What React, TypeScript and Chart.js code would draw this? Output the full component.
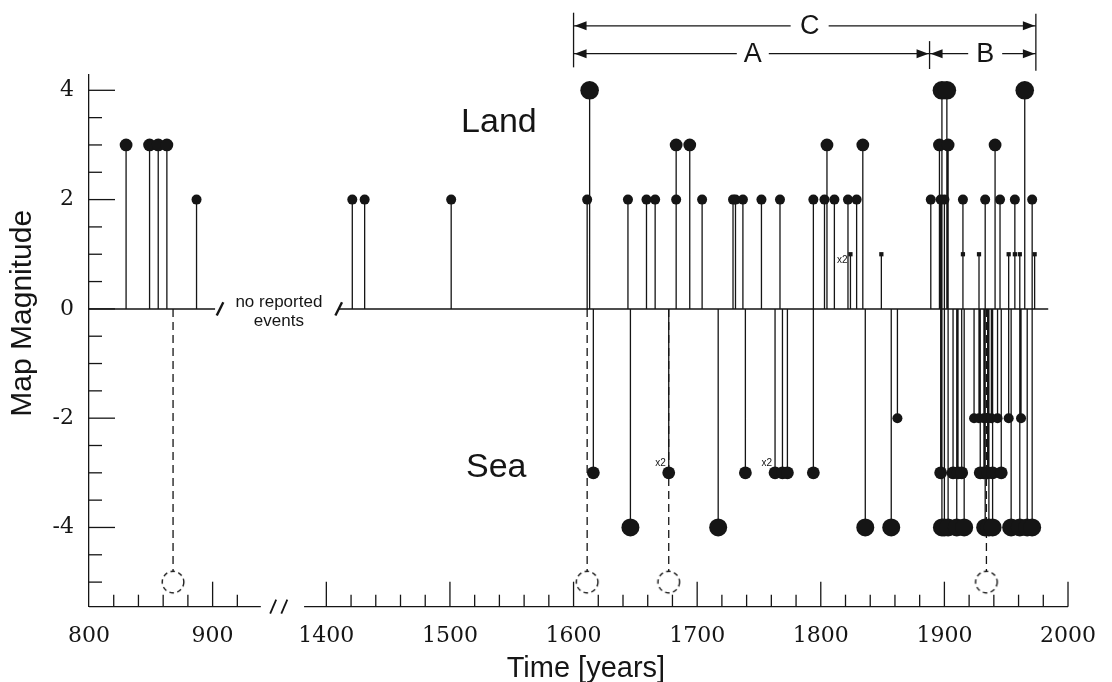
import { useEffect, useRef } from 'react';
import { Chart, registerables } from 'chart.js';

Chart.register(...registerables);

// The time axis is broken between 900 and 1400: later years are shifted left.
const AXIS_SHIFT = 408;
const toAxis = (year: number) => (year < 1000 ? year : year - AXIS_SHIFT);
const fromAxis = (v: number) => (v < 960 ? v : v + AXIS_SHIFT);

// Events felt on land (positive map magnitude)
const landYears = [
  830, 849, 856, 863, 887, 1421, 1431, 1501, 1611, 1613, 1644, 1659, 1666, 1683, 1683, 1694,
  1704, 1729, 1731, 1737, 1752, 1767, 1794, 1803, 1805, 1811, 1822, 1824, 1829, 1834, 1849,
  1889, 1896, 1897, 1898, 1900, 1902, 1903, 1915, 1915, 1928, 1933, 1941, 1945, 1952, 1957,
  1957, 1961, 1965, 1971, 1973,
];
const landMagnitudes = [
  3, 3, 3, 3, 2, 2, 2, 2, 2, 4, 2, 2, 2, 3, 2, 3,
  2, 2, 2, 2, 2, 2, 2, 2, 3, 2, 2, 1, 2, 3, 1,
  2, 3, 2, 4, 2, 4, 3, 2, 1, 1, 2, 3, 2, 1, 2,
  1, 1, 4, 2, 1,
];

// Events at sea (negative map magnitude)
const seaYears = [
  1616, 1646, 1677, 1717, 1739, 1763, 1769, 1773, 1794, 1836, 1857, 1862, 1897, 1898, 1900,
  1903, 1907, 1910, 1911, 1914, 1916, 1924, 1928, 1929, 1932, 1932, 1933, 1935, 1935, 1936,
  1938, 1939, 1939, 1943, 1946, 1952, 1954, 1961, 1962, 1967, 1971,
];
const seaMagnitudes = [
  -3, -4, -3, -4, -3, -3, -3, -3, -3, -4, -4, -2, -3, -4, -4,
  -4, -3, -4, -3, -3, -4, -2, -2, -3, -2, -3, -4, -2, -3, -4,
  -2, -3, -4, -2, -3, -2, -4, -4, -2, -4, -4,
];

// Uncertain sea events, drawn dashed
const dashedYears = [868, 1611, 1677, 1934];
const dashedLevel = -5;

// Events that happened twice in the same year
const doubleYears = [1824, 1677, 1763];
const doubleMagnitudes = [1, -3, -3];

// Periods marked above the plot
const periodNames = ['A', 'B', 'C'];
const periodStarts = [1600, 1888, 1600];
const periodEnds = [1888, 1974, 1974];

// Axis ticks
const xLabelYears = [800, 900, 1400, 1500, 1600, 1700, 1800, 1900, 2000];
const yTickLabels = [-4, -2, 0, 2, 4];

const xTickYears: number[] = [];
for (let y = 800; y <= 920; y += 20) xTickYears.push(y);
for (let y = 1400; y <= 2000; y += 20) xTickYears.push(y);
const yTickValues: number[] = [];
for (let v = -5; v <= 4; v += 0.5) yTickValues.push(v);

const INK = '#151515';
const SANS = '"Liberation Sans", Arial, Helvetica, sans-serif';
const SERIF = '"DejaVu Serif", "Liberation Serif", serif';

function markerRadius(m: number) {
  const a = Math.abs(m);
  if (a >= 4) return m > 0 ? 9.3 : 9;
  if (a >= 3) return 6.4;
  if (a >= 2) return 5;
  return 3;
}

function dashedCircle(r: number) {
  const c = document.createElement('canvas');
  const s = Math.ceil(r * 2 + 4);
  c.width = s;
  c.height = s;
  const g = c.getContext('2d')!;
  g.setLineDash([4.5, 3.5]);
  g.lineWidth = 1.4;
  g.strokeStyle = INK;
  g.beginPath();
  g.arc(s / 2, s / 2, r, 0, Math.PI * 2);
  g.stroke();
  return c;
}

function line(ctx: CanvasRenderingContext2D, x1: number, y1: number, x2: number, y2: number) {
  ctx.beginPath();
  ctx.moveTo(x1, y1);
  ctx.lineTo(x2, y2);
  ctx.stroke();
}

function arrowHead(ctx: CanvasRenderingContext2D, tipX: number, y: number, dir: number) {
  ctx.beginPath();
  ctx.moveTo(tipX, y);
  ctx.lineTo(tipX - dir * 12, y - 4.5);
  ctx.lineTo(tipX - dir * 12, y + 4.5);
  ctx.closePath();
  ctx.fill();
}

const overlay = {
  id: 'overlay',
  beforeDatasetsDraw(chart: any) {
    const ctx: CanvasRenderingContext2D = chart.ctx;
    const xs = chart.scales.x;
    const ys = chart.scales.y;
    const { left, bottom } = chart.chartArea;
    const px = (v: number) => xs.getPixelForValue(v);
    ctx.save();
    ctx.strokeStyle = INK;
    ctx.lineWidth = 1.3;
    // broken bottom axis
    line(ctx, left, bottom, px(939), bottom);
    line(ctx, px(974), bottom, xs.right, bottom);
    ctx.lineWidth = 1.8;
    for (const v of [949, 958]) {
      const x = px(v);
      line(ctx, x - 3, bottom + 7, x + 3, bottom - 7);
    }
    ctx.lineWidth = 1.3;
    // inward tick marks
    for (const t of xs.ticks) {
      const yr = fromAxis(t.value);
      if (yr === 800) continue;
      const x = px(t.value);
      line(ctx, x, bottom, x, bottom - (yr % 100 === 0 ? 25 : 12));
    }
    for (const t of ys.ticks) {
      const y = ys.getPixelForValue(t.value);
      line(ctx, left, y, left + (yTickLabels.includes(t.value) ? 26 : 13), y);
    }
    // breaks on the zero line
    const zy = ys.getPixelForValue(0);
    ctx.lineWidth = 2.4;
    for (const v of [906, 1002]) {
      const x = px(v);
      line(ctx, x - 3.3, zy + 6.7, x + 3.3, zy - 6.7);
    }
    ctx.restore();
  },
  afterDatasetsDraw(chart: any) {
    const ctx: CanvasRenderingContext2D = chart.ctx;
    const xs = chart.scales.x;
    const ys = chart.scales.y;
    const { left, bottom } = chart.chartArea;
    const pxYear = (yr: number) => xs.getPixelForValue(toAxis(yr));
    const py = (v: number) => ys.getPixelForValue(v);
    ctx.save();
    ctx.fillStyle = INK;
    ctx.strokeStyle = INK;

    // gap label on the zero line
    ctx.font = `17px ${SANS}`;
    ctx.textAlign = 'center';
    ctx.textBaseline = 'middle';
    const gx = xs.getPixelForValue(953.6);
    const zy = py(0);
    ctx.fillText('no reported', gx, zy - 6.5);
    ctx.fillText('events', gx, zy + 12);

    // Land / Sea
    ctx.font = `34px ${SANS}`;
    ctx.textAlign = 'left';
    ctx.textBaseline = 'alphabetic';
    ctx.fillText('Land', pxYear(1509), py(3.24));
    ctx.fillText('Sea', pxYear(1513), py(-3.07));

    // "x2" marks
    ctx.font = `10px ${SANS}`;
    ctx.textAlign = 'right';
    ctx.textBaseline = 'middle';
    doubleYears.forEach((yr, i) => {
      const m = doubleMagnitudes[i];
      const x = pxYear(yr);
      const y = py(m);
      if (m > 0) ctx.fillText('x2', x - 3, y + 6);
      else ctx.fillText('x2', x - 3, y - 10);
    });

    // period brackets A, B, C
    ctx.lineWidth = 1.3;
    const rowC = py(5.18);
    const rowAB = py(4.67);
    const xStart = pxYear(periodStarts[2]);
    const xEnd = pxYear(periodEnds[2]);
    const xMid = pxYear(periodEnds[0]);
    line(ctx, xStart, py(5.42), xStart, py(4.42));
    line(ctx, xEnd, py(5.40), xEnd, py(4.36));
    line(ctx, xMid, py(4.90), xMid, py(4.39));
    const labelYears = [1745, 1933, 1791];
    const gaps = [16, 17, 19];
    ctx.font = `27px ${SANS}`;
    ctx.textAlign = 'center';
    ctx.textBaseline = 'middle';
    periodNames.forEach((name, i) => {
      const y = i === 2 ? rowC : rowAB;
      const a = pxYear(periodStarts[i]);
      const b = pxYear(periodEnds[i]);
      const c = pxYear(labelYears[i]);
      line(ctx, a, y, c - gaps[i], y);
      line(ctx, c + gaps[i], y, b, y);
      arrowHead(ctx, a + 1, y, -1);
      arrowHead(ctx, b - 1, y, 1);
      ctx.fillText(name, c, y + 1);
    });

    // axis titles
    ctx.font = `30px ${SANS}`;
    ctx.textAlign = 'center';
    ctx.textBaseline = 'middle';
    ctx.save();
    ctx.translate(left - 66.5, py(-0.08));
    ctx.rotate(-Math.PI / 2);
    ctx.fillText('Map Magnitude', 0, 0);
    ctx.restore();
    ctx.font = `29px ${SANS}`;
    ctx.fillText('Time [years]', pxYear(1610), bottom + 62);
    ctx.restore();
  },
};

export default function App() {
  const ref = useRef<HTMLCanvasElement>(null);

  useEffect(() => {
    document.body.style.margin = '0';
    const canvas = ref.current!;

    const stems: { x: number; y: number | null }[] = [];
    const events = [
      ...landYears.map((yr, i) => ({ yr, m: landMagnitudes[i] })),
      ...seaYears.map((yr, i) => ({ yr, m: seaMagnitudes[i] })),
    ].sort((a, b) => a.yr - b.yr);
    events.forEach(({ yr, m }) => {
      const v = toAxis(yr);
      stems.push({ x: v, y: 0 }, { x: v, y: m }, { x: v, y: null });
    });

    const dashedStems: { x: number; y: number | null }[] = [];
    dashedYears.forEach((yr) => {
      const v = toAxis(yr);
      dashedStems.push({ x: v, y: 0 }, { x: v, y: dashedLevel + 0.2 }, { x: v, y: null });
    });

    const markers = events.map(({ yr, m }) => ({ x: toAxis(yr), y: m }));
    const ring = dashedCircle(10.8);

    const chart = new Chart(canvas, {
      type: 'scatter',
      data: {
        datasets: [
          {
            data: markers,
            order: 0,
            clip: false,
            pointBackgroundColor: INK,
            pointBorderWidth: 0,
            pointRadius: (c: any) => markerRadius(c.raw.y),
            pointStyle: (c: any) => (Math.abs(c.raw.y) < 1.5 ? 'rect' : 'circle'),
          } as any,
          {
            data: dashedYears.map((yr) => ({ x: toAxis(yr), y: dashedLevel })),
            order: 1,
            clip: false,
            pointRadius: 11,
            pointStyle: ring as any,
          } as any,
          {
            data: stems,
            order: 2,
            showLine: true,
            spanGaps: false,
            borderColor: INK,
            borderWidth: 1.3,
            pointRadius: 0,
            clip: false,
          } as any,
          {
            data: dashedStems,
            order: 3,
            showLine: true,
            spanGaps: false,
            borderColor: INK,
            borderWidth: 1.3,
            borderDash: [8, 5],
            pointRadius: 0,
            clip: false,
          } as any,
          {
            data: [
              { x: 800, y: 0 }, { x: 902, y: 0 }, { x: 902, y: null },
              { x: 1002, y: 0 }, { x: 1576, y: 0 },
            ],
            order: 4,
            showLine: true,
            spanGaps: false,
            borderColor: INK,
            borderWidth: 1.5,
            pointRadius: 0,
            clip: false,
          } as any,
        ],
      },
      options: {
        animation: false,
        responsive: false,
        events: [],
        layout: { padding: { top: 75, right: 33, left: 0, bottom: 0 } },
        plugins: { legend: { display: false }, tooltip: { enabled: false } },
        scales: {
          x: {
            type: 'linear',
            min: 800,
            max: toAxis(2000),
            grid: { display: false, drawTicks: false },
            border: { display: false },
            afterBuildTicks: (s: any) => {
              s.ticks = xTickYears.map((yr) => ({ value: toAxis(yr) }));
            },
            afterFit: (s: any) => {
              s.height = 75.3;
            },
            ticks: {
              autoSkip: false,
              maxRotation: 0,
              minRotation: 0,
              padding: 16,
              color: INK,
              font: { family: SERIF, size: 22 },
              callback: (v: any) => {
                const yr = fromAxis(Number(v));
                return xLabelYears.includes(yr) ? String(yr) : '';
              },
            },
          },
          y: {
            type: 'linear',
            min: -5.45,
            max: 4.28,
            grid: { display: false, drawTicks: false },
            border: { display: true, color: INK, width: 1.3 },
            afterBuildTicks: (s: any) => {
              s.ticks = yTickValues.map((v) => ({ value: v }));
            },
            afterFit: (s: any) => {
              s.width = 89;
            },
            ticks: {
              autoSkip: false,
              padding: 15,
              color: INK,
              font: { family: SERIF, size: 22 },
              callback: (v: any) => (yTickLabels.includes(Number(v)) ? String(v) : ''),
            },
          },
        },
      } as any,
      plugins: [overlay],
    });

    return () => chart.destroy();
  }, []);

  return (
    <div style={{ width: 1112, height: 682, position: 'relative', background: '#fff' }}>
      <canvas ref={ref} width={1112} height={682} style={{ display: 'block' }} />
    </div>
  );
}
